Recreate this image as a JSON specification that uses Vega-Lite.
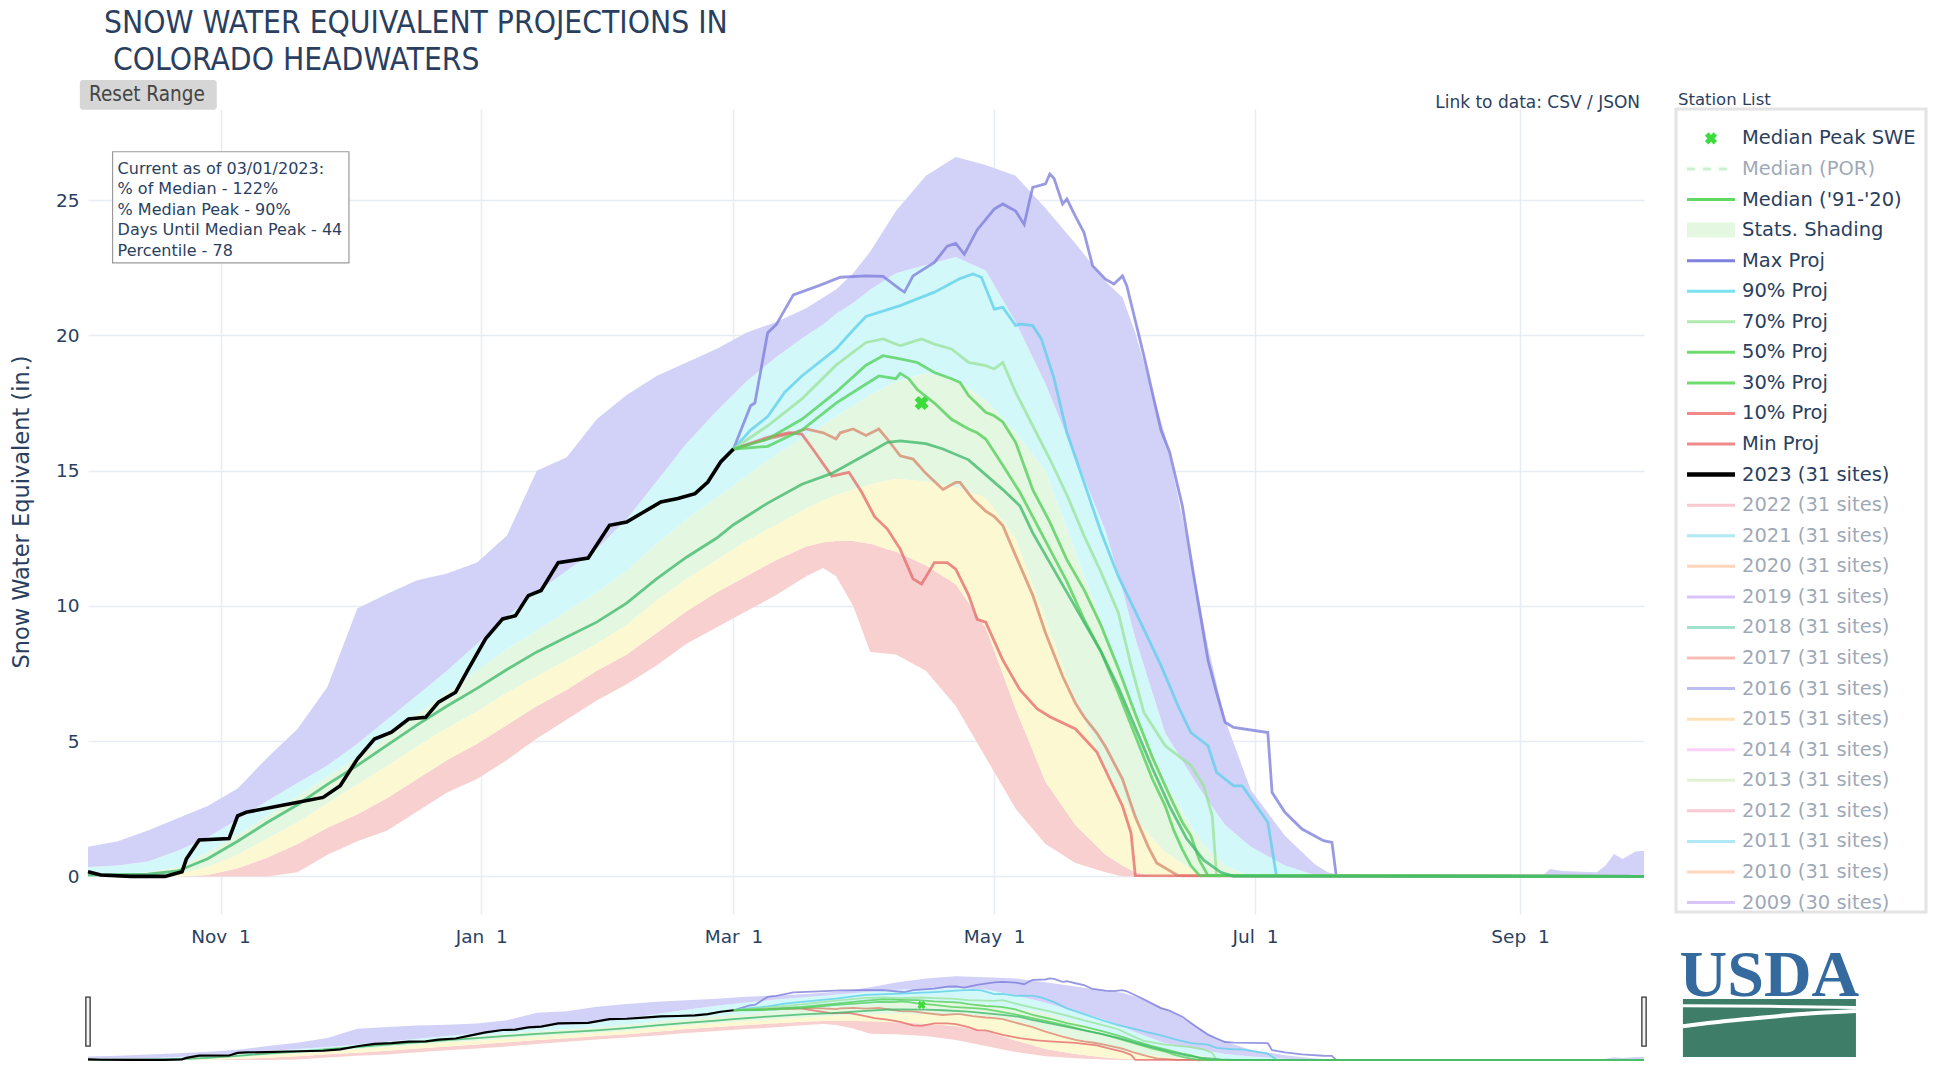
{
"$schema": "https://vega.github.io/schema/vega-lite/v6.json",
"background": "white",
"padding": {"left": 10, "top": 7, "right": 0, "bottom": 0},
"title": {"text": ["SNOW WATER EQUIVALENT PROJECTIONS IN", "\u200b\u00a0COLORADO HEADWATERS"], "anchor": "start", "frame": "bounds", "dx": 94, "offset": 4, "font": "DejaVu Sans Condensed, DejaVu Sans, sans-serif", "fontSize": 31.5, "fontWeight": "normal", "color": "#2a3f5f", "lineHeight": 37},
"config": {"view": {"stroke": null}, "font": "DejaVu Sans", "legend": {"disable": true},
  "axis": {"labelColor": "#2a3f5f", "titleColor": "#2a3f5f", "gridColor": "#e8ecf4", "gridWidth": 1.5, "domain": false, "ticks": false, "tickSize": 0, "labelFont": "DejaVu Sans", "labelFontSize": 18.5, "titleFont": "DejaVu Sans", "titleFontWeight": "normal"}},
"bounds": "flush",
"columns": 2,
"spacing": {"row": 57, "column": 32},
"resolve": {"scale": {"color": "independent", "stroke": "independent"}},
"datasets": {
"bands": [
{"date":"2022-10-01","min":0,"p10":0,"p30":0,"p70":0.1,"p90":0.35,"max":1.1},
{"date":"2022-10-08","min":0,"p10":0,"p30":0,"p70":0.1,"p90":0.4,"max":1.3},
{"date":"2022-10-15","min":0,"p10":0,"p30":0.02,"p70":0.15,"p90":0.55,"max":1.7},
{"date":"2022-10-22","min":0,"p10":0,"p30":0.1,"p70":0.35,"p90":0.95,"max":2.15},
{"date":"2022-10-29","min":0,"p10":0.05,"p30":0.35,"p70":0.9,"p90":1.45,"max":2.6},
{"date":"2022-11-05","min":0,"p10":0.3,"p30":0.8,"p70":1.55,"p90":2.1,"max":3.25},
{"date":"2022-11-12","min":0,"p10":0.7,"p30":1.4,"p70":2.25,"p90":2.8,"max":4.4},
{"date":"2022-11-19","min":0.15,"p10":1.2,"p30":2.0,"p70":2.95,"p90":3.45,"max":5.45},
{"date":"2022-11-26","min":0.8,"p10":1.8,"p30":2.7,"p70":3.7,"p90":4.1,"max":7.0},
{"date":"2022-12-03","min":1.3,"p10":2.3,"p30":3.4,"p70":4.4,"p90":4.9,"max":9.9},
{"date":"2022-12-10","min":1.7,"p10":2.9,"p30":4.1,"p70":5.2,"p90":5.8,"max":10.45},
{"date":"2022-12-17","min":2.4,"p10":3.6,"p30":4.8,"p70":6.0,"p90":6.7,"max":10.95},
{"date":"2022-12-24","min":3.1,"p10":4.3,"p30":5.5,"p70":6.8,"p90":7.6,"max":11.2},
{"date":"2022-12-31","min":3.6,"p10":4.9,"p30":6.1,"p70":7.6,"p90":8.6,"max":11.6},
{"date":"2023-01-07","min":4.3,"p10":5.6,"p30":6.8,"p70":8.4,"p90":9.6,"max":12.6},
{"date":"2023-01-14","min":5.1,"p10":6.3,"p30":7.4,"p70":9.1,"p90":10.5,"max":15.0},
{"date":"2023-01-21","min":5.8,"p10":6.9,"p30":8.0,"p70":9.8,"p90":11.3,"max":15.5},
{"date":"2023-01-28","min":6.5,"p10":7.6,"p30":8.6,"p70":10.5,"p90":12.1,"max":16.9},
{"date":"2023-02-04","min":7.1,"p10":8.2,"p30":9.3,"p70":11.3,"p90":13.2,"max":17.8},
{"date":"2023-02-11","min":7.8,"p10":9.0,"p30":10.2,"p70":12.3,"p90":14.6,"max":18.5},
{"date":"2023-02-18","min":8.6,"p10":9.8,"p30":11.0,"p70":13.2,"p90":16.0,"max":19.0},
{"date":"2023-02-25","min":9.2,"p10":10.5,"p30":11.7,"p70":14.0,"p90":17.2,"max":19.5},
{"date":"2023-03-04","min":9.8,"p10":11.1,"p30":12.4,"p70":14.8,"p90":18.3,"max":20.1},
{"date":"2023-03-11","min":10.4,"p10":11.7,"p30":13.0,"p70":15.6,"p90":19.2,"max":20.5},
{"date":"2023-03-18","min":11.1,"p10":12.2,"p30":13.6,"p70":16.3,"p90":20.0,"max":21.0},
{"date":"2023-03-22","min":11.4,"p10":12.35,"p30":13.9,"p70":16.7,"p90":20.4,"max":21.4},
{"date":"2023-03-25","min":11.1,"p10":12.4,"p30":14.1,"p70":17.0,"p90":20.8,"max":21.7},
{"date":"2023-03-29","min":10.0,"p10":12.4,"p30":14.3,"p70":17.4,"p90":21.2,"max":22.3},
{"date":"2023-04-02","min":8.3,"p10":12.3,"p30":14.5,"p70":17.8,"p90":21.7,"max":23.1},
{"date":"2023-04-08","min":8.2,"p10":12.0,"p30":14.7,"p70":18.3,"p90":22.3,"max":24.6},
{"date":"2023-04-15","min":7.6,"p10":11.5,"p30":14.6,"p70":18.6,"p90":22.6,"max":25.9},
{"date":"2023-04-22","min":6.3,"p10":10.8,"p30":14.4,"p70":18.4,"p90":22.9,"max":26.6},
{"date":"2023-04-29","min":4.4,"p10":9.2,"p30":14.0,"p70":17.6,"p90":22.4,"max":26.3},
{"date":"2023-05-06","min":2.5,"p10":6.2,"p30":12.5,"p70":16.4,"p90":20.5,"max":25.9},
{"date":"2023-05-13","min":1.2,"p10":3.5,"p30":9.5,"p70":15.0,"p90":18.2,"max":24.7},
{"date":"2023-05-20","min":0.5,"p10":1.9,"p30":6.5,"p70":12.0,"p90":15.5,"max":23.4},
{"date":"2023-05-27","min":0.15,"p10":0.8,"p30":4.0,"p70":9.0,"p90":12.8,"max":22.0},
{"date":"2023-05-31","min":0,"p10":0.4,"p30":2.9,"p70":7.2,"p90":10.6,"max":21.4},
{"date":"2023-06-03","min":0,"p10":0.15,"p30":2.2,"p70":6.0,"p90":8.8,"max":20.1},
{"date":"2023-06-07","min":0,"p10":0,"p30":1.4,"p70":4.6,"p90":6.8,"max":17.9},
{"date":"2023-06-10","min":0,"p10":0,"p30":0.9,"p70":3.5,"p90":5.3,"max":16.3},
{"date":"2023-06-17","min":0,"p10":0,"p30":0.15,"p70":1.6,"p90":3.5,"max":11.0},
{"date":"2023-06-20","min":0,"p10":0,"p30":0,"p70":1.0,"p90":2.8,"max":8.5},
{"date":"2023-06-24","min":0,"p10":0,"p30":0,"p70":0.4,"p90":1.9,"max":5.8},
{"date":"2023-06-30","min":0,"p10":0,"p30":0,"p70":0,"p90":1.1,"max":3.2},
{"date":"2023-07-08","min":0,"p10":0,"p30":0,"p70":0,"p90":0.4,"max":1.5},
{"date":"2023-07-15","min":0,"p10":0,"p30":0,"p70":0,"p90":0.05,"max":0.45},
{"date":"2023-07-18","min":0,"p10":0,"p30":0,"p70":0,"p90":0,"max":0.15},
{"date":"2023-07-22","min":0,"p10":0,"p30":0,"p70":0,"p90":0,"max":0},
{"date":"2023-09-06","min":0,"p10":0,"p30":0,"p70":0,"p90":0,"max":0},
{"date":"2023-09-08","min":0,"p10":0,"p30":0,"p70":0,"p90":0,"max":0.27},
{"date":"2023-09-11","min":0,"p10":0,"p30":0,"p70":0,"p90":0,"max":0.2},
{"date":"2023-09-19","min":0,"p10":0,"p30":0,"p70":0,"p90":0,"max":0.15},
{"date":"2023-09-21","min":0,"p10":0,"p30":0,"p70":0,"p90":0,"max":0.4},
{"date":"2023-09-23","min":0,"p10":0,"p30":0,"p70":0,"p90":0,"max":0.83},
{"date":"2023-09-25","min":0,"p10":0,"p30":0,"p70":0,"p90":0,"max":0.64},
{"date":"2023-09-28","min":0,"p10":0,"p30":0,"p70":0,"p90":0,"max":0.92},
{"date":"2023-09-30","min":0,"p10":0,"p30":0,"p70":0,"p90":0,"max":0.95}
],
"proj": [
{"series":"Max Proj","date":"2023-03-01","swe":15.8},{"series":"Max Proj","date":"2023-03-05","swe":17.4},{"series":"Max Proj","date":"2023-03-06","swe":17.5},{"series":"Max Proj","date":"2023-03-09","swe":20.1},{"series":"Max Proj","date":"2023-03-11","swe":20.4},{"series":"Max Proj","date":"2023-03-15","swe":21.5},{"series":"Max Proj","date":"2023-03-21","swe":21.84},{"series":"Max Proj","date":"2023-03-26","swe":22.15},{"series":"Max Proj","date":"2023-04-01","swe":22.2},{"series":"Max Proj","date":"2023-04-05","swe":22.18},{"series":"Max Proj","date":"2023-04-09","swe":21.7},{"series":"Max Proj","date":"2023-04-10","swe":21.6},{"series":"Max Proj","date":"2023-04-12","swe":22.2},{"series":"Max Proj","date":"2023-04-17","swe":22.7},{"series":"Max Proj","date":"2023-04-20","swe":23.3},{"series":"Max Proj","date":"2023-04-22","swe":23.4},{"series":"Max Proj","date":"2023-04-24","swe":23.0},{"series":"Max Proj","date":"2023-04-27","swe":23.9},{"series":"Max Proj","date":"2023-05-01","swe":24.67},{"series":"Max Proj","date":"2023-05-03","swe":24.86},{"series":"Max Proj","date":"2023-05-06","swe":24.6},{"series":"Max Proj","date":"2023-05-08","swe":24.1},{"series":"Max Proj","date":"2023-05-09","swe":24.8},{"series":"Max Proj","date":"2023-05-10","swe":25.47},{"series":"Max Proj","date":"2023-05-13","swe":25.6},{"series":"Max Proj","date":"2023-05-14","swe":25.97},{"series":"Max Proj","date":"2023-05-15","swe":25.8},{"series":"Max Proj","date":"2023-05-17","swe":24.86},{"series":"Max Proj","date":"2023-05-18","swe":25.04},{"series":"Max Proj","date":"2023-05-20","swe":24.4},{"series":"Max Proj","date":"2023-05-22","swe":23.8},{"series":"Max Proj","date":"2023-05-24","swe":22.58},{"series":"Max Proj","date":"2023-05-27","swe":22.08},{"series":"Max Proj","date":"2023-05-29","swe":21.9},{"series":"Max Proj","date":"2023-05-31","swe":22.2},{"series":"Max Proj","date":"2023-06-01","swe":21.84},{"series":"Max Proj","date":"2023-06-05","swe":19.25},{"series":"Max Proj","date":"2023-06-09","swe":16.5},{"series":"Max Proj","date":"2023-06-11","swe":15.7},{"series":"Max Proj","date":"2023-06-14","swe":13.7},{"series":"Max Proj","date":"2023-06-17","swe":10.8},{"series":"Max Proj","date":"2023-06-20","swe":8.0},{"series":"Max Proj","date":"2023-06-22","swe":6.8},{"series":"Max Proj","date":"2023-06-24","swe":5.7},{"series":"Max Proj","date":"2023-06-26","swe":5.51},{"series":"Max Proj","date":"2023-07-04","swe":5.32},{"series":"Max Proj","date":"2023-07-05","swe":3.1},{"series":"Max Proj","date":"2023-07-08","swe":2.37},{"series":"Max Proj","date":"2023-07-12","swe":1.75},{"series":"Max Proj","date":"2023-07-17","swe":1.32},{"series":"Max Proj","date":"2023-07-19","swe":1.26},{"series":"Max Proj","date":"2023-07-20","swe":0.03},{"series":"Max Proj","date":"2023-09-30","swe":0},
{"series":"90% Proj","date":"2023-03-01","swe":15.8},{"series":"90% Proj","date":"2023-03-05","swe":16.5},{"series":"90% Proj","date":"2023-03-09","swe":17.0},{"series":"90% Proj","date":"2023-03-13","swe":17.9},{"series":"90% Proj","date":"2023-03-17","swe":18.5},{"series":"90% Proj","date":"2023-03-25","swe":19.5},{"series":"90% Proj","date":"2023-03-29","swe":20.2},{"series":"90% Proj","date":"2023-04-01","swe":20.7},{"series":"90% Proj","date":"2023-04-09","swe":21.1},{"series":"90% Proj","date":"2023-04-17","swe":21.6},{"series":"90% Proj","date":"2023-04-23","swe":22.1},{"series":"90% Proj","date":"2023-04-26","swe":22.27},{"series":"90% Proj","date":"2023-04-28","swe":22.15},{"series":"90% Proj","date":"2023-05-01","swe":20.97},{"series":"90% Proj","date":"2023-05-03","swe":21.04},{"series":"90% Proj","date":"2023-05-06","swe":20.36},{"series":"90% Proj","date":"2023-05-07","swe":20.42},{"series":"90% Proj","date":"2023-05-10","swe":20.36},{"series":"90% Proj","date":"2023-05-12","swe":19.87},{"series":"90% Proj","date":"2023-05-15","swe":18.4},{"series":"90% Proj","date":"2023-05-18","swe":16.4},{"series":"90% Proj","date":"2023-05-22","swe":14.57},{"series":"90% Proj","date":"2023-05-26","swe":12.72},{"series":"90% Proj","date":"2023-05-30","swe":11.1},{"series":"90% Proj","date":"2023-06-03","swe":9.8},{"series":"90% Proj","date":"2023-06-06","swe":8.8},{"series":"90% Proj","date":"2023-06-09","swe":7.8},{"series":"90% Proj","date":"2023-06-13","swe":6.3},{"series":"90% Proj","date":"2023-06-16","swe":5.32},{"series":"90% Proj","date":"2023-06-20","swe":4.83},{"series":"90% Proj","date":"2023-06-22","swe":3.85},{"series":"90% Proj","date":"2023-06-26","swe":3.35},{"series":"90% Proj","date":"2023-06-28","swe":3.35},{"series":"90% Proj","date":"2023-07-04","swe":2.0},{"series":"90% Proj","date":"2023-07-06","swe":0.03},{"series":"90% Proj","date":"2023-09-30","swe":0},
{"series":"10% Proj","date":"2023-03-01","swe":15.8},{"series":"10% Proj","date":"2023-03-09","swe":16.17},{"series":"10% Proj","date":"2023-03-15","swe":16.4},{"series":"10% Proj","date":"2023-03-18","swe":16.54},{"series":"10% Proj","date":"2023-03-22","swe":16.4},{"series":"10% Proj","date":"2023-03-25","swe":16.17},{"series":"10% Proj","date":"2023-03-26","swe":16.4},{"series":"10% Proj","date":"2023-03-29","swe":16.54},{"series":"10% Proj","date":"2023-04-01","swe":16.3},{"series":"10% Proj","date":"2023-04-04","swe":16.54},{"series":"10% Proj","date":"2023-04-06","swe":16.17},{"series":"10% Proj","date":"2023-04-09","swe":15.55},{"series":"10% Proj","date":"2023-04-12","swe":15.43},{"series":"10% Proj","date":"2023-04-15","swe":14.9},{"series":"10% Proj","date":"2023-04-19","swe":14.3},{"series":"10% Proj","date":"2023-04-22","swe":14.57},{"series":"10% Proj","date":"2023-04-23","swe":14.57},{"series":"10% Proj","date":"2023-04-26","swe":13.95},{"series":"10% Proj","date":"2023-04-29","swe":13.5},{"series":"10% Proj","date":"2023-05-01","swe":13.3},{"series":"10% Proj","date":"2023-05-03","swe":12.97},{"series":"10% Proj","date":"2023-05-06","swe":11.86},{"series":"10% Proj","date":"2023-05-10","swe":10.4},{"series":"10% Proj","date":"2023-05-13","swe":9.0},{"series":"10% Proj","date":"2023-05-17","swe":7.4},{"series":"10% Proj","date":"2023-05-20","swe":6.4},{"series":"10% Proj","date":"2023-05-22","swe":5.9},{"series":"10% Proj","date":"2023-05-25","swe":5.3},{"series":"10% Proj","date":"2023-05-27","swe":4.8},{"series":"10% Proj","date":"2023-05-31","swe":3.6},{"series":"10% Proj","date":"2023-06-03","swe":2.2},{"series":"10% Proj","date":"2023-06-06","swe":1.1},{"series":"10% Proj","date":"2023-06-08","swe":0.5},{"series":"10% Proj","date":"2023-06-13","swe":0.03},{"series":"10% Proj","date":"2023-09-30","swe":0},
{"series":"Min Proj","date":"2023-03-01","swe":15.8},{"series":"Min Proj","date":"2023-03-09","swe":16.23},{"series":"Min Proj","date":"2023-03-14","swe":16.4},{"series":"Min Proj","date":"2023-03-17","swe":16.35},{"series":"Min Proj","date":"2023-03-20","swe":15.7},{"series":"Min Proj","date":"2023-03-24","swe":14.8},{"series":"Min Proj","date":"2023-03-28","swe":14.94},{"series":"Min Proj","date":"2023-03-31","swe":14.2},{"series":"Min Proj","date":"2023-04-03","swe":13.3},{"series":"Min Proj","date":"2023-04-06","swe":12.84},{"series":"Min Proj","date":"2023-04-09","swe":12.1},{"series":"Min Proj","date":"2023-04-12","swe":11.0},{"series":"Min Proj","date":"2023-04-14","swe":10.81},{"series":"Min Proj","date":"2023-04-17","swe":11.6},{"series":"Min Proj","date":"2023-04-20","swe":11.6},{"series":"Min Proj","date":"2023-04-22","swe":11.36},{"series":"Min Proj","date":"2023-04-25","swe":10.4},{"series":"Min Proj","date":"2023-04-27","swe":9.5},{"series":"Min Proj","date":"2023-04-29","swe":9.4},{"series":"Min Proj","date":"2023-05-03","swe":8.0},{"series":"Min Proj","date":"2023-05-07","swe":6.9},{"series":"Min Proj","date":"2023-05-11","swe":6.2},{"series":"Min Proj","date":"2023-05-14","swe":5.9},{"series":"Min Proj","date":"2023-05-20","swe":5.45},{"series":"Min Proj","date":"2023-05-25","swe":4.6},{"series":"Min Proj","date":"2023-05-28","swe":3.6},{"series":"Min Proj","date":"2023-05-31","swe":2.6},{"series":"Min Proj","date":"2023-06-02","swe":1.6},{"series":"Min Proj","date":"2023-06-03","swe":0.03},{"series":"Min Proj","date":"2023-09-30","swe":0},
{"series":"70% Proj","date":"2023-03-01","swe":15.8},{"series":"70% Proj","date":"2023-03-09","swe":16.66},{"series":"70% Proj","date":"2023-03-17","swe":17.65},{"series":"70% Proj","date":"2023-03-25","swe":18.9},{"series":"70% Proj","date":"2023-04-01","swe":19.74},{"series":"70% Proj","date":"2023-04-05","swe":19.87},{"series":"70% Proj","date":"2023-04-09","swe":19.62},{"series":"70% Proj","date":"2023-04-14","swe":19.87},{"series":"70% Proj","date":"2023-04-17","swe":19.68},{"series":"70% Proj","date":"2023-04-21","swe":19.5},{"series":"70% Proj","date":"2023-04-25","swe":19.0},{"series":"70% Proj","date":"2023-04-29","swe":18.88},{"series":"70% Proj","date":"2023-05-01","swe":18.76},{"series":"70% Proj","date":"2023-05-03","swe":19.0},{"series":"70% Proj","date":"2023-05-06","swe":17.9},{"series":"70% Proj","date":"2023-05-10","swe":16.66},{"series":"70% Proj","date":"2023-05-14","swe":15.43},{"series":"70% Proj","date":"2023-05-18","swe":14.1},{"series":"70% Proj","date":"2023-05-22","swe":12.6},{"series":"70% Proj","date":"2023-05-26","swe":11.24},{"series":"70% Proj","date":"2023-05-30","swe":9.76},{"series":"70% Proj","date":"2023-06-02","swe":7.8},{"series":"70% Proj","date":"2023-06-05","swe":6.06},{"series":"70% Proj","date":"2023-06-10","swe":4.83},{"series":"70% Proj","date":"2023-06-16","swe":4.1},{"series":"70% Proj","date":"2023-06-19","swe":3.35},{"series":"70% Proj","date":"2023-06-21","swe":2.24},{"series":"70% Proj","date":"2023-06-22","swe":0.03},{"series":"70% Proj","date":"2023-09-30","swe":0},
{"series":"50% Proj","date":"2023-03-01","swe":15.8},{"series":"50% Proj","date":"2023-03-09","swe":16.17},{"series":"50% Proj","date":"2023-03-17","swe":16.9},{"series":"50% Proj","date":"2023-03-25","swe":17.9},{"series":"50% Proj","date":"2023-04-01","swe":18.9},{"series":"50% Proj","date":"2023-04-05","swe":19.25},{"series":"50% Proj","date":"2023-04-09","swe":19.13},{"series":"50% Proj","date":"2023-04-13","swe":19.0},{"series":"50% Proj","date":"2023-04-17","swe":18.63},{"series":"50% Proj","date":"2023-04-21","swe":18.4},{"series":"50% Proj","date":"2023-04-23","swe":18.26},{"series":"50% Proj","date":"2023-04-25","swe":17.77},{"series":"50% Proj","date":"2023-04-29","swe":17.16},{"series":"50% Proj","date":"2023-05-01","swe":17.03},{"series":"50% Proj","date":"2023-05-03","swe":16.8},{"series":"50% Proj","date":"2023-05-06","swe":16.05},{"series":"50% Proj","date":"2023-05-10","swe":14.3},{"series":"50% Proj","date":"2023-05-14","swe":13.1},{"series":"50% Proj","date":"2023-05-18","swe":11.7},{"series":"50% Proj","date":"2023-05-22","swe":10.6},{"series":"50% Proj","date":"2023-05-26","swe":9.27},{"series":"50% Proj","date":"2023-05-30","swe":7.7},{"series":"50% Proj","date":"2023-06-03","swe":6.0},{"series":"50% Proj","date":"2023-06-07","swe":4.4},{"series":"50% Proj","date":"2023-06-11","swe":3.0},{"series":"50% Proj","date":"2023-06-14","swe":2.0},{"series":"50% Proj","date":"2023-06-16","swe":1.5},{"series":"50% Proj","date":"2023-06-18","swe":0.6},{"series":"50% Proj","date":"2023-06-20","swe":0.03},{"series":"50% Proj","date":"2023-09-30","swe":0},
{"series":"30% Proj","date":"2023-03-01","swe":15.8},{"series":"30% Proj","date":"2023-03-09","swe":15.9},{"series":"30% Proj","date":"2023-03-17","swe":16.5},{"series":"30% Proj","date":"2023-03-25","swe":17.5},{"series":"30% Proj","date":"2023-03-31","swe":18.1},{"series":"30% Proj","date":"2023-04-04","swe":18.5},{"series":"30% Proj","date":"2023-04-08","swe":18.4},{"series":"30% Proj","date":"2023-04-09","swe":18.6},{"series":"30% Proj","date":"2023-04-11","swe":18.4},{"series":"30% Proj","date":"2023-04-13","swe":18.0},{"series":"30% Proj","date":"2023-04-17","swe":17.5},{"series":"30% Proj","date":"2023-04-21","swe":16.9},{"series":"30% Proj","date":"2023-04-25","swe":16.54},{"series":"30% Proj","date":"2023-04-27","swe":16.4},{"series":"30% Proj","date":"2023-04-29","swe":16.17},{"series":"30% Proj","date":"2023-05-03","swe":15.2},{"series":"30% Proj","date":"2023-05-07","swe":14.2},{"series":"30% Proj","date":"2023-05-10","swe":13.3},{"series":"30% Proj","date":"2023-05-14","swe":12.1},{"series":"30% Proj","date":"2023-05-18","swe":10.9},{"series":"30% Proj","date":"2023-05-22","swe":9.5},{"series":"30% Proj","date":"2023-05-26","swe":8.3},{"series":"30% Proj","date":"2023-05-30","swe":6.8},{"series":"30% Proj","date":"2023-06-03","swe":5.2},{"series":"30% Proj","date":"2023-06-07","swe":3.6},{"series":"30% Proj","date":"2023-06-10","swe":2.6},{"series":"30% Proj","date":"2023-06-12","swe":1.7},{"series":"30% Proj","date":"2023-06-14","swe":1.0},{"series":"30% Proj","date":"2023-06-16","swe":0.4},{"series":"30% Proj","date":"2023-06-18","swe":0.03},{"series":"30% Proj","date":"2023-09-30","swe":0},
{"series":"Median ('91-'20)","date":"2022-10-01","swe":0.05},{"series":"Median ('91-'20)","date":"2022-10-15","swe":0.08},{"series":"Median ('91-'20)","date":"2022-10-22","swe":0.2},{"series":"Median ('91-'20)","date":"2022-10-29","swe":0.65},{"series":"Median ('91-'20)","date":"2022-11-05","swe":1.3},{"series":"Median ('91-'20)","date":"2022-11-12","swe":2.0},{"series":"Median ('91-'20)","date":"2022-11-19","swe":2.65},{"series":"Median ('91-'20)","date":"2022-11-26","swe":3.4},{"series":"Median ('91-'20)","date":"2022-12-03","swe":4.1},{"series":"Median ('91-'20)","date":"2022-12-10","swe":4.85},{"series":"Median ('91-'20)","date":"2022-12-17","swe":5.6},{"series":"Median ('91-'20)","date":"2022-12-24","swe":6.3},{"series":"Median ('91-'20)","date":"2022-12-31","swe":6.95},{"series":"Median ('91-'20)","date":"2023-01-07","swe":7.65},{"series":"Median ('91-'20)","date":"2023-01-14","swe":8.3},{"series":"Median ('91-'20)","date":"2023-01-21","swe":8.85},{"series":"Median ('91-'20)","date":"2023-01-28","swe":9.4},{"series":"Median ('91-'20)","date":"2023-02-04","swe":10.1},{"series":"Median ('91-'20)","date":"2023-02-11","swe":11.0},{"series":"Median ('91-'20)","date":"2023-02-18","swe":11.8},{"series":"Median ('91-'20)","date":"2023-02-25","swe":12.5},{"series":"Median ('91-'20)","date":"2023-03-01","swe":13.0},{"series":"Median ('91-'20)","date":"2023-03-09","swe":13.8},{"series":"Median ('91-'20)","date":"2023-03-17","swe":14.5},{"series":"Median ('91-'20)","date":"2023-03-24","swe":14.9},{"series":"Median ('91-'20)","date":"2023-04-01","swe":15.6},{"series":"Median ('91-'20)","date":"2023-04-06","swe":16.05},{"series":"Median ('91-'20)","date":"2023-04-09","swe":16.1},{"series":"Median ('91-'20)","date":"2023-04-15","swe":16.0},{"series":"Median ('91-'20)","date":"2023-04-19","swe":15.8},{"series":"Median ('91-'20)","date":"2023-04-25","swe":15.4},{"series":"Median ('91-'20)","date":"2023-05-03","swe":14.3},{"series":"Median ('91-'20)","date":"2023-05-07","swe":13.7},{"series":"Median ('91-'20)","date":"2023-05-10","swe":12.7},{"series":"Median ('91-'20)","date":"2023-05-14","swe":11.6},{"series":"Median ('91-'20)","date":"2023-05-18","swe":10.5},{"series":"Median ('91-'20)","date":"2023-05-22","swe":9.4},{"series":"Median ('91-'20)","date":"2023-05-26","swe":8.3},{"series":"Median ('91-'20)","date":"2023-05-30","swe":7.0},{"series":"Median ('91-'20)","date":"2023-06-03","swe":5.5},{"series":"Median ('91-'20)","date":"2023-06-07","swe":4.0},{"series":"Median ('91-'20)","date":"2023-06-11","swe":2.6},{"series":"Median ('91-'20)","date":"2023-06-15","swe":1.4},{"series":"Median ('91-'20)","date":"2023-06-19","swe":0.6},{"series":"Median ('91-'20)","date":"2023-06-23","swe":0.15},{"series":"Median ('91-'20)","date":"2023-06-26","swe":0},{"series":"Median ('91-'20)","date":"2023-09-30","swe":0}
],
"obs": [
{"date":"2022-10-01","swe":0.17},{"date":"2022-10-04","swe":0.05},{"date":"2022-10-11","swe":0.0},{"date":"2022-10-19","swe":0.0},{"date":"2022-10-23","swe":0.17},{"date":"2022-10-24","swe":0.64},{"date":"2022-10-27","swe":1.35},{"date":"2022-11-03","swe":1.4},{"date":"2022-11-05","swe":2.24},{"date":"2022-11-07","swe":2.37},{"date":"2022-11-17","swe":2.68},{"date":"2022-11-25","swe":2.92},{"date":"2022-11-29","swe":3.35},{"date":"2022-12-03","swe":4.34},{"date":"2022-12-07","swe":5.08},{"date":"2022-12-11","swe":5.33},{"date":"2022-12-15","swe":5.82},{"date":"2022-12-19","swe":5.88},{"date":"2022-12-22","swe":6.44},{"date":"2022-12-26","swe":6.81},{"date":"2022-12-29","swe":7.67},{"date":"2023-01-02","swe":8.78},{"date":"2023-01-06","swe":9.52},{"date":"2023-01-09","swe":9.64},{"date":"2023-01-12","swe":10.38},{"date":"2023-01-15","swe":10.57},{"date":"2023-01-19","swe":11.6},{"date":"2023-01-26","swe":11.77},{"date":"2023-01-31","swe":12.98},{"date":"2023-02-04","swe":13.1},{"date":"2023-02-08","swe":13.47},{"date":"2023-02-12","swe":13.84},{"date":"2023-02-16","swe":13.97},{"date":"2023-02-20","swe":14.15},{"date":"2023-02-23","swe":14.58},{"date":"2023-02-26","swe":15.32},{"date":"2023-03-01","swe":15.8}
],
"peak": [{"date":"2023-04-14","swe":17.5}],
"legend": [
{"order":0,"entry":"Median Peak SWE","kind":"cross","state":"visible"},
{"order":1,"entry":"Median (POR)","kind":"dash","state":"legendonly"},
{"order":2,"entry":"Median ('91-'20)","kind":"line","state":"visible"},
{"order":3,"entry":"Stats. Shading","kind":"band","state":"visible"},
{"order":4,"entry":"Max Proj","kind":"line","state":"visible"},
{"order":5,"entry":"90% Proj","kind":"line","state":"visible"},
{"order":6,"entry":"70% Proj","kind":"line","state":"visible"},
{"order":7,"entry":"50% Proj","kind":"line","state":"visible"},
{"order":8,"entry":"30% Proj","kind":"line","state":"visible"},
{"order":9,"entry":"10% Proj","kind":"line","state":"visible"},
{"order":10,"entry":"Min Proj","kind":"line","state":"visible"},
{"order":11,"entry":"2023 (31 sites)","kind":"thick","state":"visible"},
{"order":12,"entry":"2022 (31 sites)","kind":"line","state":"legendonly"},
{"order":13,"entry":"2021 (31 sites)","kind":"line","state":"legendonly"},
{"order":14,"entry":"2020 (31 sites)","kind":"line","state":"legendonly"},
{"order":15,"entry":"2019 (31 sites)","kind":"line","state":"legendonly"},
{"order":16,"entry":"2018 (31 sites)","kind":"line","state":"legendonly"},
{"order":17,"entry":"2017 (31 sites)","kind":"line","state":"legendonly"},
{"order":18,"entry":"2016 (31 sites)","kind":"line","state":"legendonly"},
{"order":19,"entry":"2015 (31 sites)","kind":"line","state":"legendonly"},
{"order":20,"entry":"2014 (31 sites)","kind":"line","state":"legendonly"},
{"order":21,"entry":"2013 (31 sites)","kind":"line","state":"legendonly"},
{"order":22,"entry":"2012 (31 sites)","kind":"line","state":"legendonly"},
{"order":23,"entry":"2011 (31 sites)","kind":"line","state":"legendonly"},
{"order":24,"entry":"2010 (31 sites)","kind":"line","state":"legendonly"},
{"order":25,"entry":"2009 (30 sites)","kind":"line","state":"legendonly"}
],
"swoosh1": [{"lx":0,"ly":43.5},{"lx":50,"ly":43},{"lx":100,"ly":42}],
"swoosh2": [{"lx":0,"ly":26},{"lx":25,"ly":30.5},{"lx":50,"ly":34},{"lx":75,"ly":37},{"lx":100,"ly":39}]
},
"concat": [
{
 "width": 1556, "height": 805,
 "layer": [
  {"data": {"name": "bands"}, "mark": {"type": "area", "color": "#f9d0d0"},
   "encoding": {
    "x": {"field": "date", "type": "temporal", "scale": {"type": "utc", "domain": [{"year": 2022, "month": 10, "date": 1, "utc": true}, {"year": 2023, "month": 9, "date": 30, "utc": true}]},
      "axis": {"title": null, "values": [{"year": 2022, "month": 11, "date": 1, "utc": true}, {"year": 2023, "month": 1, "date": 1, "utc": true}, {"year": 2023, "month": 3, "date": 1, "utc": true}, {"year": 2023, "month": 5, "date": 1, "utc": true}, {"year": 2023, "month": 7, "date": 1, "utc": true}, {"year": 2023, "month": 9, "date": 1, "utc": true}], "labelExpr": "utcFormat(datum.value, '%b') + '\u00a0\u00a0' + utcFormat(datum.value, '%-d')", "labelPadding": 13, "grid": true}},
    "y": {"field": "min", "type": "quantitative", "scale": {"domain": [-1.39, 28.37], "nice": false, "zero": false},
      "axis": {"title": "Snow Water Equivalent (in.)", "values": [0, 5, 10, 15, 20, 25], "titleFontSize": 22.5, "titleX": -55, "titleBaseline": "bottom", "labelPadding": 9, "grid": true}},
    "y2": {"field": "p10"}}},
  {"data": {"name": "bands"}, "mark": {"type": "area", "color": "#fcf9d2"}, "encoding": {"x": {"field": "date", "type": "temporal"}, "y": {"field": "p10", "type": "quantitative"}, "y2": {"field": "p30"}}},
  {"data": {"name": "bands"}, "mark": {"type": "area", "color": "#e4f7e0"}, "encoding": {"x": {"field": "date", "type": "temporal"}, "y": {"field": "p30", "type": "quantitative"}, "y2": {"field": "p70"}}},
  {"data": {"name": "bands"}, "mark": {"type": "area", "color": "#d3f8f9"}, "encoding": {"x": {"field": "date", "type": "temporal"}, "y": {"field": "p70", "type": "quantitative"}, "y2": {"field": "p90"}}},
  {"data": {"name": "bands"}, "mark": {"type": "area", "color": "#d2d2f8"}, "encoding": {"x": {"field": "date", "type": "temporal"}, "y": {"field": "p90", "type": "quantitative"}, "y2": {"field": "max"}}},
  {"data": {"name": "proj"}, "mark": {"type": "line", "strokeWidth": 2.8, "opacity": 0.78},
   "encoding": {"x": {"field": "date", "type": "temporal"}, "y": {"field": "swe", "type": "quantitative"},
    "stroke": {"field": "series", "type": "nominal", "legend": null, "scale": {"domain": ["Max Proj", "90% Proj", "10% Proj", "Min Proj", "70% Proj", "50% Proj", "30% Proj", "Median ('91-'20)"], "range": ["#7d7ddb", "#5fcfea", "#d98a72", "#e56b6b", "#9be39b", "#52cf5a", "#52cf5a", "#3fb86a"]}}}},
  {"data": {"name": "obs"}, "mark": {"type": "line", "color": "#000000", "strokeWidth": 3.6}, "encoding": {"x": {"field": "date", "type": "temporal"}, "y": {"field": "swe", "type": "quantitative"}}},
  {"data": {"name": "peak"}, "mark": {"type": "point", "shape": "cross", "angle": 45, "filled": true, "color": "#3bdc3b", "size": 200, "opacity": 1}, "encoding": {"x": {"field": "date", "type": "temporal"}, "y": {"field": "swe", "type": "quantitative"}}},
  {"data": {"values": [{}]}, "mark": {"type": "rect", "fill": "#ffffff", "stroke": "#9a9a9a", "strokeWidth": 1.2},
   "encoding": {"x": {"datum": {"year": 2022, "month": 10, "date": 6, "hours": 18, "utc": true}, "type": "temporal"}, "x2": {"datum": {"year": 2022, "month": 12, "date": 1, "hours": 1, "utc": true}}, "y": {"datum": 22.68, "type": "quantitative"}, "y2": {"datum": 26.79}}},
  {"data": {"values": [{}]}, "mark": {"type": "text", "text": ["Current as of 03/01/2023:", "% of Median - 122%", "% Median Peak - 90%", "Days Until Median Peak - 44", "Percentile - 78"], "align": "left", "baseline": "alphabetic", "font": "DejaVu Sans", "fontSize": 16, "lineHeight": 20.5, "color": "#2a3f5f"},
   "encoding": {"x": {"datum": {"year": 2022, "month": 10, "date": 7, "hours": 22, "utc": true}, "type": "temporal"}, "y": {"datum": 25.97, "type": "quantitative"}}},
  {"data": {"values": [{}]}, "mark": {"type": "rect", "fill": "#d6d6d6", "cornerRadius": 3},
   "encoding": {"x": {"datum": {"year": 2022, "month": 9, "date": 29, "hours": 2, "utc": true}, "type": "temporal"}, "x2": {"datum": {"year": 2022, "month": 10, "date": 31, "hours": 3, "utc": true}}, "y": {"datum": 28.34, "type": "quantitative"}, "y2": {"datum": 29.44}}},
  {"data": {"values": [{}]}, "mark": {"type": "text", "text": "Reset Range", "align": "left", "baseline": "middle", "font": "DejaVu Sans Condensed, DejaVu Sans, sans-serif", "fontSize": 20.5, "color": "#444444"},
   "encoding": {"x": {"datum": {"year": 2022, "month": 10, "date": 1, "hours": 6, "utc": true}, "type": "temporal"}, "y": {"datum": 28.9, "type": "quantitative"}}},
  {"data": {"values": [{}]}, "mark": {"type": "text", "text": "Link to data: CSV / JSON", "align": "right", "baseline": "middle", "font": "DejaVu Sans", "fontSize": 17, "color": "#2a3f5f"},
   "encoding": {"x": {"datum": {"year": 2023, "month": 9, "date": 29, "hours": 2, "utc": true}, "type": "temporal"}, "y": {"datum": 28.6, "type": "quantitative"}}}
 ]
},
{
 "width": 250, "height": 803,
 "view": {"stroke": "#e4e4e4", "strokeWidth": 3, "fill": "#ffffff"},
 "title": {"text": "Station List", "anchor": "start", "frame": "group", "fontSize": 16.5, "fontWeight": "normal", "font": "DejaVu Sans", "color": "#2a3f5f", "offset": 1, "dx": 2},
 "data": {"name": "legend"},
 "encoding": {"y": {"field": "order", "type": "quantitative", "scale": {"domain": [-0.962, 25.31], "reverse": true, "nice": false, "zero": false}, "axis": null}},
 "layer": [
  {"transform": [{"filter": "datum.kind == 'line'"}], "mark": {"type": "rule", "strokeWidth": 3},
   "encoding": {"x": {"datum": 11, "type": "quantitative", "scale": {"domain": [0, 250], "nice": false, "zero": false}, "axis": null}, "x2": {"datum": 59},
    "color": {"field": "entry", "type": "nominal", "legend": null, "scale": {"domain": ["Median Peak SWE", "Median (POR)", "Median ('91-'20)", "Stats. Shading", "Max Proj", "90% Proj", "70% Proj", "50% Proj", "30% Proj", "10% Proj", "Min Proj", "2023 (31 sites)", "2022 (31 sites)", "2021 (31 sites)", "2020 (31 sites)", "2019 (31 sites)", "2018 (31 sites)", "2017 (31 sites)", "2016 (31 sites)", "2015 (31 sites)", "2014 (31 sites)", "2013 (31 sites)", "2012 (31 sites)", "2011 (31 sites)", "2010 (31 sites)", "2009 (30 sites)"], "range": ["#3bdc3b", "#8fdc8f", "#62d962", "#e4f7e0", "#8080e0", "#78e2f0", "#aee9ae", "#6fdb6f", "#6fdb6f", "#f08a8a", "#f08a8a", "#000000", "#f7879f", "#4fcbec", "#fba56a", "#a87cf0", "#2fbf93", "#ef6a5c", "#6c6ce6", "#f8be5e", "#f39aee", "#bfe39a", "#f7879f", "#4fcbec", "#fba56a", "#a87cf0"]}},
    "opacity": {"condition": {"test": "datum.state == 'legendonly'", "value": 0.45}, "value": 1}}},
  {"transform": [{"filter": "datum.kind == 'dash'"}], "mark": {"type": "rule", "strokeWidth": 3, "strokeDash": [8, 8]},
   "encoding": {"x": {"datum": 11, "type": "quantitative"}, "x2": {"datum": 59}, "color": {"field": "entry", "type": "nominal", "legend": null}, "opacity": {"condition": {"test": "datum.state == 'legendonly'", "value": 0.45}, "value": 1}}},
  {"transform": [{"filter": "datum.kind == 'thick'"}], "mark": {"type": "rule", "strokeWidth": 4.5},
   "encoding": {"x": {"datum": 11, "type": "quantitative"}, "x2": {"datum": 59}, "color": {"field": "entry", "type": "nominal", "legend": null}}},
  {"transform": [{"filter": "datum.kind == 'band'"}], "mark": {"type": "rule", "strokeWidth": 15},
   "encoding": {"x": {"datum": 11, "type": "quantitative"}, "x2": {"datum": 59}, "color": {"field": "entry", "type": "nominal", "legend": null}}},
  {"transform": [{"filter": "datum.kind == 'cross'"}], "mark": {"type": "point", "shape": "cross", "angle": 45, "filled": true, "size": 150, "opacity": 1},
   "encoding": {"x": {"datum": 35, "type": "quantitative"}, "color": {"field": "entry", "type": "nominal", "legend": null}}},
  {"mark": {"type": "text", "align": "left", "baseline": "middle", "font": "DejaVu Sans", "fontSize": 19.5, "color": "#2a3f5f"},
   "encoding": {"x": {"datum": 66, "type": "quantitative"}, "text": {"field": "entry", "type": "nominal"}, "opacity": {"condition": {"test": "datum.state == 'legendonly'", "value": 0.45}, "value": 1}}}
 ]
},
{
 "width": 1556, "height": 90,
 "layer": [
  {"data": {"name": "bands"}, "mark": {"type": "area", "color": "#f9d0d0"},
   "encoding": {"x": {"field": "date", "type": "temporal", "scale": {"type": "utc", "domain": [{"year": 2022, "month": 10, "date": 1, "utc": true}, {"year": 2023, "month": 9, "date": 30, "utc": true}]}, "axis": null},
    "y": {"field": "min", "type": "quantitative", "scale": {"domain": [-0.35, 28.3], "nice": false, "zero": false}, "axis": null}, "y2": {"field": "p10"}}},
  {"data": {"name": "bands"}, "mark": {"type": "area", "color": "#fcf9d2"}, "encoding": {"x": {"field": "date", "type": "temporal", "axis": null}, "y": {"field": "p10", "type": "quantitative", "axis": null}, "y2": {"field": "p30"}}},
  {"data": {"name": "bands"}, "mark": {"type": "area", "color": "#e4f7e0"}, "encoding": {"x": {"field": "date", "type": "temporal", "axis": null}, "y": {"field": "p30", "type": "quantitative", "axis": null}, "y2": {"field": "p70"}}},
  {"data": {"name": "bands"}, "mark": {"type": "area", "color": "#d3f8f9"}, "encoding": {"x": {"field": "date", "type": "temporal", "axis": null}, "y": {"field": "p70", "type": "quantitative", "axis": null}, "y2": {"field": "p90"}}},
  {"data": {"name": "bands"}, "mark": {"type": "area", "color": "#d2d2f8"}, "encoding": {"x": {"field": "date", "type": "temporal", "axis": null}, "y": {"field": "p90", "type": "quantitative", "axis": null}, "y2": {"field": "max"}}},
  {"data": {"name": "proj"}, "mark": {"type": "line", "strokeWidth": 1.8, "opacity": 0.8},
   "encoding": {"x": {"field": "date", "type": "temporal", "axis": null}, "y": {"field": "swe", "type": "quantitative", "axis": null},
    "stroke": {"field": "series", "type": "nominal", "legend": null, "scale": {"domain": ["Max Proj", "90% Proj", "10% Proj", "Min Proj", "70% Proj", "50% Proj", "30% Proj", "Median ('91-'20)"], "range": ["#7d7ddb", "#5fcfea", "#d98a72", "#e56b6b", "#9be39b", "#52cf5a", "#52cf5a", "#3fb86a"]}}}},
  {"data": {"name": "obs"}, "mark": {"type": "line", "color": "#000000", "strokeWidth": 2.2}, "encoding": {"x": {"field": "date", "type": "temporal", "axis": null}, "y": {"field": "swe", "type": "quantitative", "axis": null}}},
  {"data": {"name": "peak"}, "mark": {"type": "point", "shape": "cross", "angle": 45, "filled": true, "color": "#3bdc3b", "size": 70, "opacity": 1}, "encoding": {"x": {"field": "date", "type": "temporal", "axis": null}, "y": {"field": "swe", "type": "quantitative", "axis": null}}},
  {"data": {"values": [{}]}, "mark": {"type": "rect", "fill": "#f4f4f4", "stroke": "#333333", "strokeWidth": 1.3},
   "encoding": {"x": {"datum": {"year": 2022, "month": 9, "date": 30, "hours": 12, "utc": true}, "type": "temporal"}, "x2": {"datum": {"year": 2022, "month": 10, "date": 1, "hours": 12, "utc": true}}, "y": {"datum": 4.4, "type": "quantitative"}, "y2": {"datum": 20}}},
  {"data": {"values": [{}]}, "mark": {"type": "rect", "fill": "#f4f4f4", "stroke": "#333333", "strokeWidth": 1.3},
   "encoding": {"x": {"datum": {"year": 2023, "month": 9, "date": 29, "hours": 12, "utc": true}, "type": "temporal"}, "x2": {"datum": {"year": 2023, "month": 9, "date": 30, "hours": 12, "utc": true}}, "y": {"datum": 4.4, "type": "quantitative"}, "y2": {"datum": 20}}}
 ]
},
{
 "width": 250, "height": 90,
 "layer": [
  {"data": {"values": [{}]}, "mark": {"type": "rect", "fill": "#3e7d68"},
   "encoding": {"x": {"datum": 0, "type": "quantitative", "scale": {"domain": [-4, 140.5], "nice": false, "zero": false}, "axis": null}, "x2": {"datum": 100},
    "y": {"datum": 0, "type": "quantitative", "scale": {"domain": [-3.4, 72.9], "nice": false, "zero": false}, "axis": null}, "y2": {"datum": 49.2}}},
  {"data": {"name": "swoosh1"}, "mark": {"type": "line", "color": "#ffffff", "strokeWidth": 3, "interpolate": "monotone"}, "encoding": {"x": {"field": "lx", "type": "quantitative"}, "y": {"field": "ly", "type": "quantitative"}}},
  {"data": {"name": "swoosh2"}, "mark": {"type": "line", "color": "#ffffff", "strokeWidth": 4, "interpolate": "monotone"}, "encoding": {"x": {"field": "lx", "type": "quantitative"}, "y": {"field": "ly", "type": "quantitative"}}},
  {"data": {"values": [{}]}, "mark": {"type": "text", "text": "USDA", "align": "center", "baseline": "alphabetic", "font": "Liberation Serif", "fontWeight": "bold", "fontSize": 66, "color": "#346a9e"},
   "encoding": {"x": {"datum": 50, "type": "quantitative"}, "y": {"datum": 51.7, "type": "quantitative"}}}
 ]
}
]
}
